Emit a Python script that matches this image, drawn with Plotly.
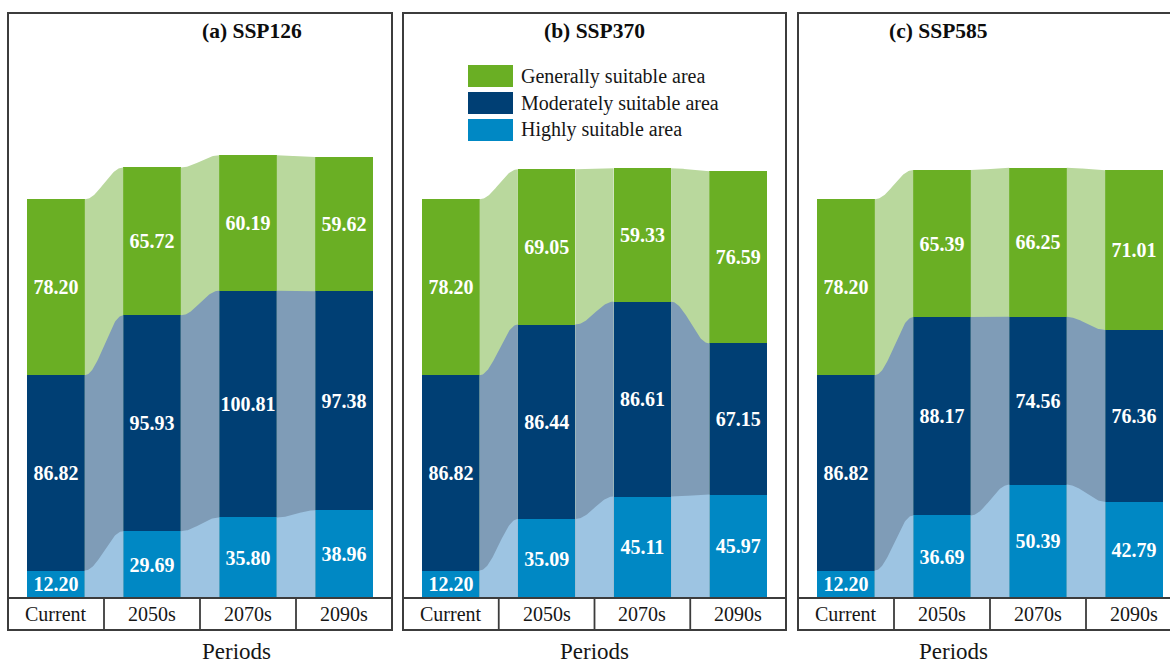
import math
import plotly.graph_objects as go

# ---- data -------------------------------------------------------------
periods = ["Current", "2050s", "2070s", "2090s"]
scenarios = ["(a) SSP126", "(b) SSP370", "(c) SSP585"]
classes = ["Generally suitable area", "Moderately suitable area", "Highly suitable area"]

highly_ssp126 = [12.20, 29.69, 35.80, 38.96]
moderately_ssp126 = [86.82, 95.93, 100.81, 97.38]
generally_ssp126 = [78.20, 65.72, 60.19, 59.62]

highly_ssp370 = [12.20, 35.09, 45.11, 45.97]
moderately_ssp370 = [86.82, 86.44, 86.61, 67.15]
generally_ssp370 = [78.20, 69.05, 59.33, 76.59]

highly_ssp585 = [12.20, 36.69, 50.39, 42.79]
moderately_ssp585 = [86.82, 88.17, 74.56, 76.36]
generally_ssp585 = [78.20, 65.39, 66.25, 71.01]

panels = [
    (highly_ssp126, moderately_ssp126, generally_ssp126),
    (highly_ssp370, moderately_ssp370, generally_ssp370),
    (highly_ssp585, moderately_ssp585, generally_ssp585),
]

# ---- style ------------------------------------------------------------
W, H = 1170, 663
SERIF = "Liberation Serif"
C_GEN, C_MOD, C_HIGH = "#6aaf24", "#003f74", "#0088c4"
F_GEN, F_MOD, F_HIGH = "#b9d89d", "#7f9cb7", "#9dc4e2"
EDGE = "#3c3c3c"
TEXT = "#161616"
BAR_W = 0.6

# panel frames in pixels (the last one runs past the right edge of the page)
box_left = [8, 403, 798]
box_right = [392, 786, 1182]
box_top, box_bottom = 13, 630
zero_px = 598          # baseline of the bars / top of the period row
px_per_unit = 2.25


def px(x):
    return x / W


def py(y):
    return 1 - y / H


def ease(t):
    return (1 - math.cos(math.pi * t)) / 2


fig = go.Figure()
shapes, annotations = [], []
y_lo = -(box_bottom - zero_px) / px_per_unit
y_hi = (zero_px - box_top) / px_per_unit

for k, (high, mod, gen) in enumerate(panels):
    sfx = "" if k == 0 else str(k + 1)
    xa, ya = "x" + sfx, "y" + sfx
    left, right = box_left[k], box_right[k]
    vis_right = min(right, W)
    x_hi = -0.5 + len(periods) * (vis_right - left) / (right - left)

    fig.update_layout(**{
        "xaxis" + sfx: dict(domain=[px(left), px(vis_right)], range=[-0.5, x_hi],
                            visible=False, fixedrange=True),
        "yaxis" + sfx: dict(domain=[py(box_bottom), py(box_top)], range=[y_lo, y_hi],
                            visible=False, fixedrange=True),
    })

    tops_high = high
    tops_mod = [h + m for h, m in zip(high, mod)]
    tops_gen = [h + m + g for h, m, g in zip(high, mod, gen)]

    # ribbons between neighbouring bars, largest first so they overlap cleanly
    for i in range(len(periods) - 1):
        x0, x1 = i + BAR_W / 2, i + 1 - BAR_W / 2
        n = 50
        xs = [x0 + (x1 - x0) * j / n for j in range(n + 1)]
        for tops, fc in ((tops_gen, F_GEN), (tops_mod, F_MOD), (tops_high, F_HIGH)):
            ys = [tops[i] + (tops[i + 1] - tops[i]) * ease(j / n) for j in range(n + 1)]
            fig.add_trace(go.Scatter(
                x=xs + [x1, x0], y=ys + [0, 0], xaxis=xa, yaxis=ya,
                mode="lines", fill="toself", fillcolor=fc,
                line=dict(width=0, color=fc), hoverinfo="skip", showlegend=False,
            ))

    # stacked bars
    for vals, col, name in ((high, C_HIGH, classes[2]), (mod, C_MOD, classes[1]),
                            (gen, C_GEN, classes[0])):
        fig.add_trace(go.Bar(
            x=list(range(len(periods))), y=vals, width=BAR_W, xaxis=xa, yaxis=ya,
            marker=dict(color=col, line=dict(width=0)), name=name,
            texttemplate="%{y:.2f}", textposition="inside", insidetextanchor="middle",
            textangle=0, cliponaxis=False,
            textfont=dict(family=SERIF, size=20, color="white", weight="bold"),
            showlegend=False, hoverinfo="skip",
        ))

    # period row beneath the bars
    shapes.append(dict(type="line", xref=xa, yref=ya, x0=-0.5, x1=len(periods) - 0.5,
                       y0=0, y1=0, line=dict(color=EDGE, width=1.8)))
    for i in range(len(periods) - 1):
        shapes.append(dict(type="line", xref=xa, yref=ya, x0=i + 0.5, x1=i + 0.5,
                           y0=y_lo, y1=0, line=dict(color=EDGE, width=1.8)))
    for i, p in enumerate(periods):
        annotations.append(dict(x=i, y=y_lo / 2, xref=xa, yref=ya, text=p, showarrow=False,
                                font=dict(family=SERIF, size=20, color=TEXT)))

    # frame, title and axis caption
    shapes.append(dict(type="rect", xref="paper", yref="paper",
                       x0=px(left), x1=px(right), y0=py(box_bottom), y1=py(box_top),
                       line=dict(color=EDGE, width=2), fillcolor="rgba(0,0,0,0)"))
    cx = px((left + right) / 2)
    annotations.append(dict(x=cx, y=py(31), xref="paper", yref="paper", text=scenarios[k],
                            showarrow=False, yanchor="middle",
                            font=dict(family=SERIF, size=21.5, color="#0d0d0d", weight="bold")))
    annotations.append(dict(x=cx, y=py(651), xref="paper", yref="paper", text="Periods",
                            showarrow=False, yanchor="middle",
                            font=dict(family=SERIF, size=23, color=TEXT)))

# legend inside the middle panel
leg_x0, leg_x1 = 468, 513
for j, (label, col) in enumerate(zip(classes, (C_GEN, C_MOD, C_HIGH))):
    y0 = 65 + 27 * j
    shapes.append(dict(type="rect", xref="paper", yref="paper",
                       x0=px(leg_x0), x1=px(leg_x1), y0=py(y0 + 22), y1=py(y0),
                       line=dict(width=0), fillcolor=col))
    annotations.append(dict(x=px(519), y=py(y0 + 11), xref="paper", yref="paper",
                            text=label, showarrow=False, xanchor="left", yanchor="middle",
                            font=dict(family=SERIF, size=20, color=TEXT)))

fig.update_layout(
    width=W, height=H, margin=dict(l=0, r=0, t=0, b=0),
    paper_bgcolor="white", plot_bgcolor="rgba(0,0,0,0)",
    barmode="stack", showlegend=False,
    uniformtext=dict(minsize=20, mode="show"),
    shapes=shapes, annotations=annotations,
)

fig.write_html("out.html", config={"displayModeBar": False})
